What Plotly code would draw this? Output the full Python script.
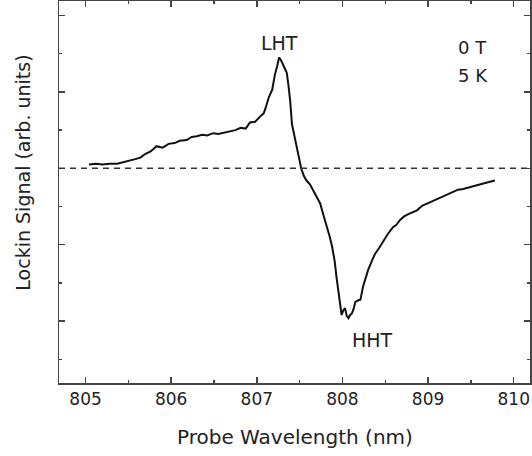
import plotly.graph_objects as go

# Probe wavelength (nm) and lock-in signal (arb. units)
wavelength = [805.04, 805.12, 805.20, 805.28, 805.37, 805.45, 805.52, 805.58, 805.64, 805.70,
              805.76, 805.83, 805.90, 805.97, 806.04, 806.10, 806.18, 806.24, 806.30, 806.36,
              806.42, 806.49, 806.55, 806.62, 806.69, 806.75, 806.81, 806.87, 806.92, 806.98,
              807.04, 807.08, 807.10, 807.12, 807.14, 807.18, 807.21, 807.24, 807.26, 807.28,
              807.31, 807.35, 807.37, 807.39, 807.41, 807.44, 807.47, 807.50, 807.52, 807.55,
              807.58, 807.62, 807.66, 807.70, 807.74, 807.78, 807.82, 807.85, 807.88, 807.91,
              807.93, 807.95, 807.97, 807.99, 808.01, 808.03, 808.05, 808.07, 808.09, 808.11,
              808.13, 808.15, 808.18, 808.21, 808.24, 808.27, 808.30, 808.34, 808.38, 808.43,
              808.48, 808.53, 808.59, 808.63, 808.67, 808.72, 808.77, 808.82, 808.87, 808.93,
              808.99, 809.06, 809.12, 809.18, 809.24, 809.29, 809.35, 809.41, 809.47, 809.53,
              809.59, 809.65, 809.71, 809.78]
signal = [0.05, 0.06, 0.05, 0.06, 0.06, 0.08, 0.10, 0.12, 0.14, 0.19,
          0.22, 0.29, 0.27, 0.32, 0.33, 0.36, 0.37, 0.41, 0.42, 0.44,
          0.43, 0.46, 0.45, 0.47, 0.49, 0.50, 0.53, 0.52, 0.60, 0.61,
          0.68, 0.72, 0.78, 0.86, 0.93, 1.03, 1.22, 1.35, 1.45, 1.42,
          1.34, 1.25, 1.08, 0.88, 0.58, 0.42, 0.27, 0.12, -0.01, -0.10,
          -0.16, -0.21, -0.29, -0.37, -0.46, -0.62, -0.77, -0.89, -1.03, -1.22,
          -1.42, -1.60, -1.72, -1.92, -1.86, -1.83, -1.93, -1.96, -1.92, -1.90,
          -1.84, -1.75, -1.73, -1.72, -1.55, -1.44, -1.33, -1.22, -1.12, -1.04,
          -0.94, -0.86, -0.77, -0.74, -0.68, -0.63, -0.60, -0.57, -0.55, -0.49,
          -0.46, -0.42, -0.39, -0.37, -0.33, -0.31, -0.28, -0.27, -0.25, -0.23,
          -0.21, -0.20, -0.18, -0.16]

x_ticks = [805, 806, 807, 808, 809, 810]
peak_labels = ["LHT", "HHT"]
peak_x = [807.27, 808.35]
peak_y = [1.64, -2.25]
condition_labels = ["0 T", "5 K"]
condition_y = [1.575, 1.21]
x_title = "Probe Wavelength (nm)"
y_title = "Lockin Signal (arb. units)"

font_family = "DejaVu Sans, Arial, sans-serif"
text_color = "#222222"
axis_color = "#444444"

fig = go.Figure()
fig.add_trace(go.Scatter(x=wavelength, y=signal, mode="lines",
                         line=dict(color="#111111", width=2), showlegend=False,
                         hoverinfo="skip"))

fig.add_shape(type="line", xref="paper", yref="y", x0=0, x1=1, y0=0, y1=0,
              line=dict(color="#333333", width=1.5, dash="6px,5px"))

for lab, lx, ly in zip(peak_labels, peak_x, peak_y):
    fig.add_annotation(x=lx, y=ly, text=lab, showarrow=False,
                       font=dict(family=font_family, size=19, color=text_color))

for lab, ly in zip(condition_labels, condition_y):
    fig.add_annotation(x=809.33, y=ly, text=lab, showarrow=False,
                       xanchor="left", yanchor="middle",
                       font=dict(family=font_family, size=18, color=text_color))

fig.add_annotation(xref="paper", yref="paper", x=0.5, y=-0.141, text=x_title,
                   showarrow=False, xanchor="center", yanchor="middle",
                   font=dict(family=font_family, size=20, color=text_color))
fig.add_annotation(xref="paper", yref="paper", x=-0.077, y=0.55, text=y_title,
                   showarrow=False, xanchor="center", yanchor="middle", textangle=-90,
                   font=dict(family=font_family, size=19, color=text_color))

fig.update_xaxes(range=[804.69, 810.19], tickvals=x_ticks, ticks="inside", ticklen=6,
                 tickwidth=1.5, tickcolor=axis_color, automargin=False,
                 minor=dict(dtick=0.5, ticks="inside", ticklen=3, tickcolor=axis_color, tickwidth=1.5),
                 showline=True, linecolor=axis_color, linewidth=1.5, mirror="ticks",
                 showgrid=False, zeroline=False,
                 tickfont=dict(family=font_family, size=17, color=text_color))
fig.update_yaxes(range=[-2.81, 2.19], dtick=1, tick0=0, ticks="inside", ticklen=6,
                 tickwidth=1.5, tickcolor=axis_color, showticklabels=False, automargin=False,
                 minor=dict(dtick=0.5, ticks="inside", ticklen=3, tickcolor=axis_color, tickwidth=1.5),
                 showline=True, linecolor=axis_color, linewidth=1.5, mirror="ticks",
                 showgrid=False, zeroline=False)

fig.update_layout(width=532, height=456, margin=dict(l=59, r=2, t=1, b=73),
                  plot_bgcolor="white", paper_bgcolor="white", hovermode=False)

fig.write_html("out.html", config={"displayModeBar": False, "staticPlot": True},
               post_script="document.body.style.margin='0px';document.body.style.overflow='hidden';")
